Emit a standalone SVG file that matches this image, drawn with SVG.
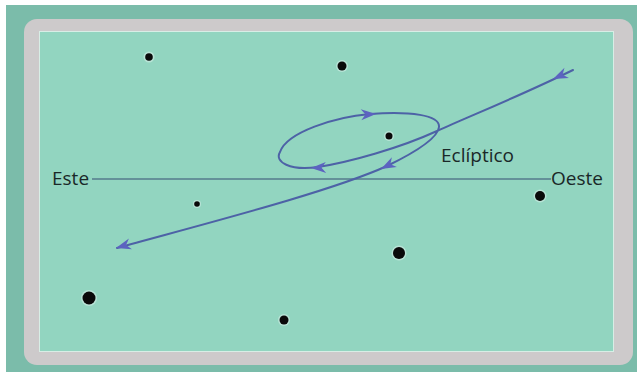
<svg xmlns="http://www.w3.org/2000/svg" width="640" height="376" viewBox="0 0 640 376">
  <style>
    .lbl { font-family: "Open Sans", "Liberation Sans", sans-serif; font-size: 19px; fill: #1a2828; }
    .halo { fill: #ffffff; opacity: 0.35; }
    .star { fill: #0a0a0a; }
    .path { fill: none; stroke: #4d62a6; stroke-width: 2; stroke-linecap: round; }
    .arrow { fill: #5c63c0; }
  </style>
  <defs>
    <path id="ah" d="M0,0 L-15,-5.5 L-10.5,0 L-15,5.5 Z"/>
  </defs>
  <rect x="0" y="0" width="640" height="376" fill="#ffffff"/>
  <g id="background">
    <rect x="6" y="5" width="631" height="367" fill="#7bbcaa"/>
    <rect x="24" y="19" width="609" height="346" rx="13" fill="#cdcacb"/>
    <rect x="39" y="31" width="575" height="321" fill="#d8eee6"/>
    <rect x="40" y="32" width="573" height="319" fill="#92d5c0"/>
  </g>
  <g id="horizon">
    <line x1="92" y1="179" x2="551" y2="179" stroke="#557a8c" stroke-width="1.3"/>
  </g>
  <g id="stars">
    <g id="star1"><circle class="halo" cx="149" cy="57" r="5.5"/><circle class="star" cx="149" cy="57" r="3.8"/></g>
    <g id="star2"><circle class="halo" cx="342" cy="66" r="6"/><circle class="star" cx="342" cy="66" r="4.5"/></g>
    <g id="star3"><circle class="halo" cx="389" cy="136" r="5"/><circle class="star" cx="389" cy="136" r="3.5"/></g>
    <g id="star4"><circle class="halo" cx="197" cy="204" r="4"/><circle class="star" cx="197" cy="204" r="2.8"/></g>
    <g id="star5"><circle class="halo" cx="540" cy="196" r="6.5"/><circle class="star" cx="540" cy="196" r="5"/></g>
    <g id="star6"><circle class="halo" cx="399" cy="253" r="7.5"/><circle class="star" cx="399" cy="253" r="6"/></g>
    <g id="star7"><circle class="halo" cx="89" cy="298" r="8"/><circle class="star" cx="89" cy="298" r="6.5"/></g>
    <g id="star8"><circle class="halo" cx="284" cy="320" r="6"/><circle class="star" cx="284" cy="320" r="4.5"/></g>
  </g>
  <g id="connectors">
    <path class="path" d="M 573,70 C 520,96 470,116 437,131 C 400,148 350,162 318,167 C 290,171 274,162 280,152 C 287,132 335,117 370,114 C 410,111 440,115 439,127 C 438,137 420,150 387,166 C 330,192 200,225 117,248"/>
    <use href="#ah" class="arrow" transform="translate(553,79) rotate(156)"/>
    <use href="#ah" class="arrow" transform="translate(376,114) rotate(-3)"/>
    <use href="#ah" class="arrow" transform="translate(311,168) rotate(178)"/>
    <use href="#ah" class="arrow" transform="translate(381,169) rotate(153)"/>
    <use href="#ah" class="arrow" transform="translate(116,248) rotate(164)"/>
  </g>
  <g id="labels">
    <text class="lbl" x="52" y="185">Este</text>
    <text class="lbl" x="551" y="185">Oeste</text>
    <text class="lbl" x="441" y="162">Eclíptico</text>
  </g>
</svg>
